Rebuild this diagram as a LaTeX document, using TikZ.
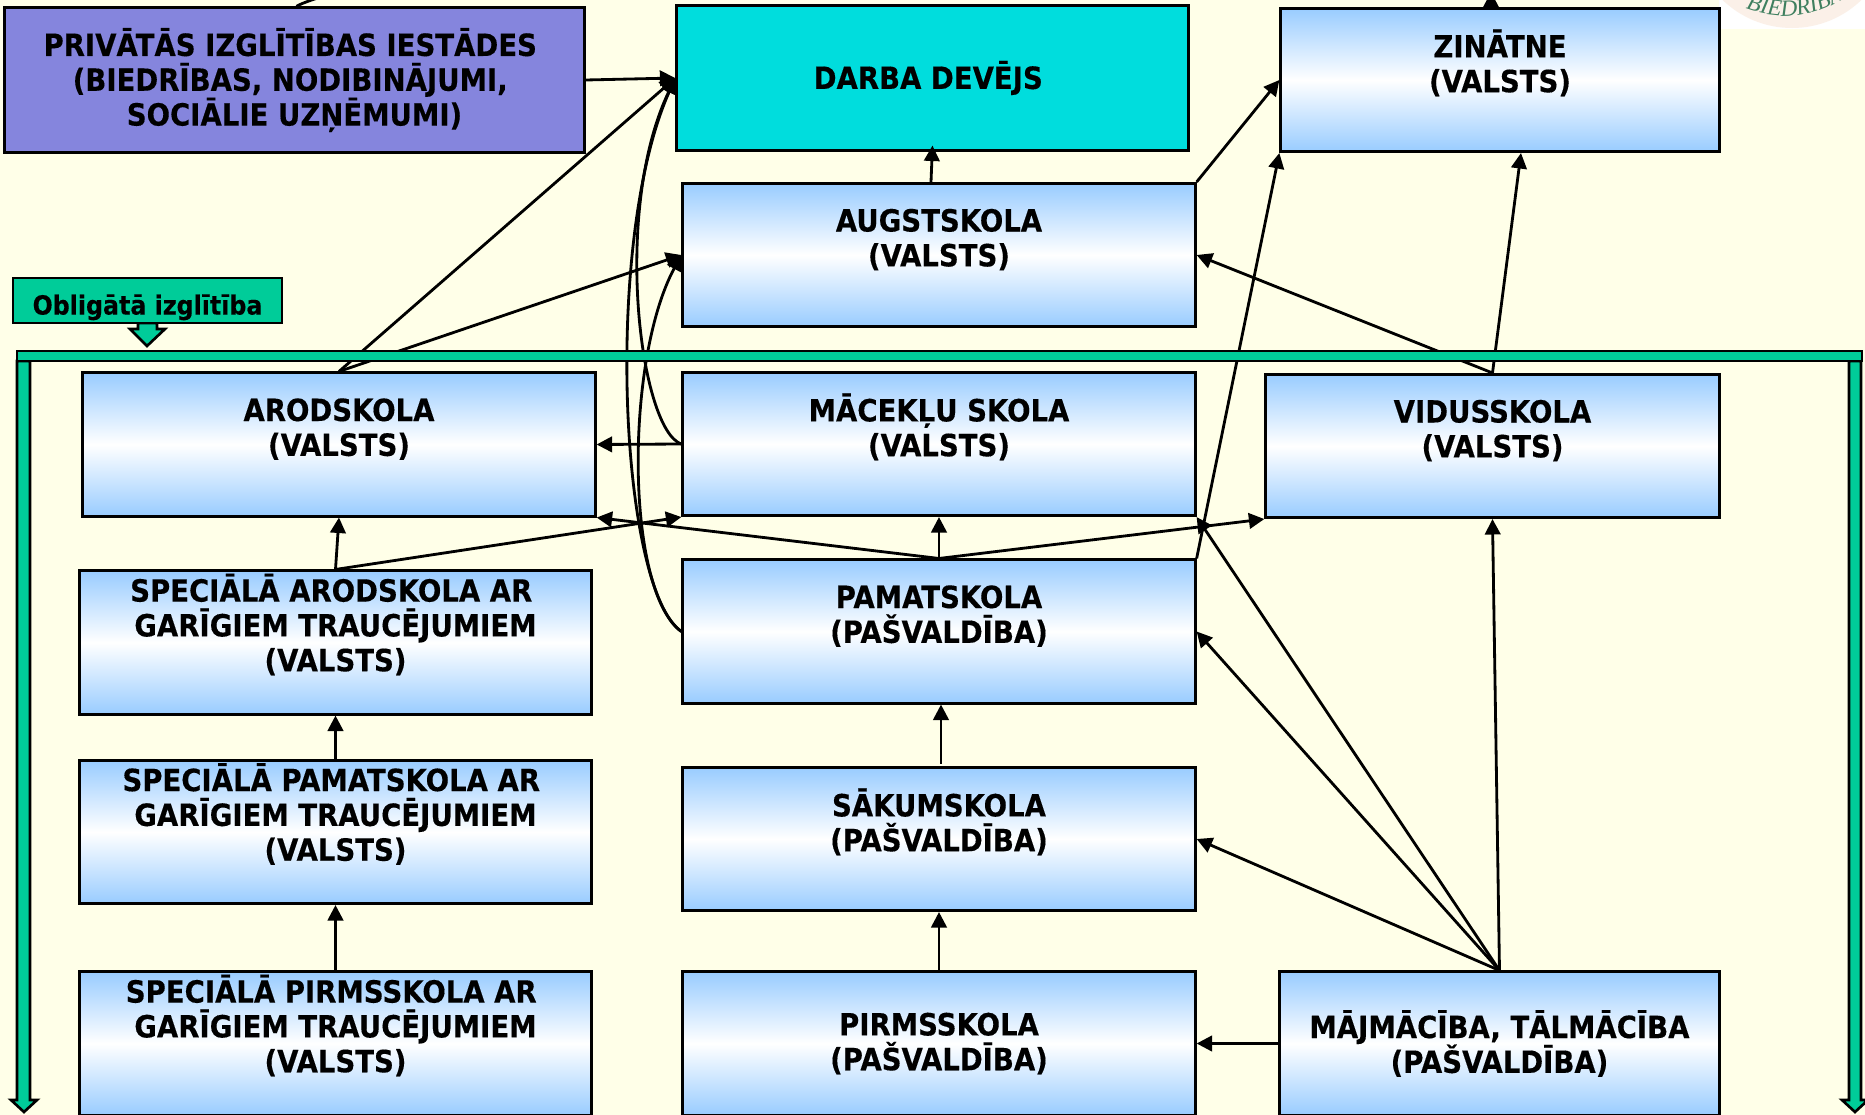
\documentclass[tikz,border=0pt]{standalone}
\usepackage{fontspec}
\setmainfont[FakeStretch=0.9,BoldFeatures={FakeBold=0.3}]{DejaVu Sans}
\newfontfamily\sealfont{Liberation Serif}
\usepackage{tikz}
\usetikzlibrary{shapes,arrows.meta}
\usetikzlibrary{calc}
\usetikzlibrary{decorations.text}
\definecolor{paper}{HTML}{FFFFE8}
\definecolor{skyblue}{HTML}{99CCFF}
\definecolor{mintgreen}{HTML}{00CC99}
\definecolor{violetbox}{HTML}{8585DD}
\definecolor{cyanbox}{HTML}{00DDDD}
\definecolor{sealpink}{HTML}{FBF0E8}
\definecolor{sealgreen}{HTML}{3F7F5F}
\pgfdeclareradialshading{sealglow}{\pgfpoint{0bp}{0bp}}{color(0bp)=(sealpink);color(37bp)=(sealpink);color(50bp)=(white)}
\newcommand{\tailgap}{\kern2.4pt\relax}
\tikzstyle{skola} = [draw, line width=0.85pt, inner sep=0pt, align=center, minimum height=1.43cm,
font=\fontsize{8.7}{9.9}\selectfont\bfseries, top color=skyblue, bottom color=skyblue, middle color=white]
\tikzstyle{flatbox} = [draw, line width=0.85pt, inner sep=0pt, align=center, minimum height=1.44cm,
font=\fontsize{8.7}{9.9}\selectfont\bfseries]
\tikzstyle{line} = [draw, line width=0.8pt, -{Triangle[length=4.4pt,width=4.4pt]}]
\tikzstyle{greenarrow} = [draw=black, line width=0.75pt, fill=mintgreen]

\begin{document}
\begin{tikzpicture}[x=0.01cm, y=-0.01cm]
	\useasboundingbox (0,0) rectangle (1865,1115);
	\clip (0,0) rectangle (1865,1115);
	\fill [paper] (0,0) rectangle (1865,1115);
	% Seal in the corner
	\fill [white] (1719,0) rectangle (1865,29);
	\shade [shading=sealglow] (1792,-72) circle (100);
	\path [decorate, decoration={text along path, text align=center,
		text={|\sealfont\itshape\fontsize{6.6}{7}\selectfont\color{sealgreen}|BIEDRĪBA}}]
		(1742,7) .. controls (1774,20) and (1809,21) .. (1848,-4);
	%% Boxes
	% Top row
	\node [flatbox, fill=violetbox, minimum width=5.79cm] at (294.5,80) (priv)
		{PRIVĀTĀS IZGLĪTĪBAS IESTĀDES\tailgap\\(BIEDRĪBAS, NODIBINĀJUMI,\tailgap\\SOCIĀLIE UZŅĒMUMI)};
	\node [flatbox, fill=cyanbox, minimum width=5.11cm] at (932.5,78) (darba) {DARBA DEVĒJS\tailgap};
	\node [skola, minimum width=4.38cm] at (1500,80) (zinatne) {ZINĀTNE\\(VALSTS)\\[1pt]~};
	\node [skola, minimum width=5.12cm] at (939,255) (augst) {AUGSTSKOLA\\(VALSTS)\\~};
	% Left column
	\node [skola, minimum width=5.12cm] at (339,444.5) (arod) {ARODSKOLA\\(VALSTS)\\~};
	\node [skola, minimum width=5.11cm] at (335.5,642.5) (specarod) {SPECIĀLĀ ARODSKOLA AR\tailgap\\GARĪGIEM TRAUCĒJUMIEM\\(VALSTS)\\[1.5pt]~};
	\node [skola, minimum width=5.11cm] at (335.5,832) (specpam) {SPECIĀLĀ PAMATSKOLA AR\tailgap\\GARĪGIEM TRAUCĒJUMIEM\\(VALSTS)\\[1.5pt]~};
	\node [skola, minimum width=5.11cm] at (335.5,1043.5) (specpirm) {SPECIĀLĀ PIRMSSKOLA AR\tailgap\\GARĪGIEM TRAUCĒJUMIEM\\(VALSTS)\\[1.5pt]~};
	% Middle column
	\node [skola, minimum width=5.12cm] at (939,444) (macek) {MĀCEKĻU SKOLA\\(VALSTS)\\[1pt]~};
	\node [skola, minimum width=5.12cm] at (939,631.5) (pamat) {PAMATSKOLA\\(PAŠVALDĪBA)\\~};
	\node [skola, minimum width=5.12cm] at (939,839) (sakum) {SĀKUMSKOLA\\(PAŠVALDĪBA)\\[1pt]~};
	\node [skola, minimum width=5.12cm] at (939,1043.5) (pirms) {PIRMSSKOLA\\(PAŠVALDĪBA)};
	% Right column
	\node [skola, minimum width=4.53cm] at (1492.5,446) (vidus) {VIDUSSKOLA\\(VALSTS)\\~};
	\node [skola, minimum width=4.39cm] at (1499.5,1043.5) (majm) {MĀJMĀCĪBA, TĀLMĀCĪBA\\(PAŠVALDĪBA)};
	%% Flows
	% Leaving the page
	\coordinate (offpriv) at (330,-6);
	\coordinate (offzin) at (1491,-8);
	\draw [line width=0.8pt] ($(priv.north)+(2,0)$) .. controls (300,4) and (308,1) .. (offpriv);
	\path [line] ($(zinatne.north)+(-9,0)$) to (offzin);
	% To the employer
	\path [line] (priv.east) to (darba.west);
	\path [line] (arod.north) to (darba.west);
	\path [line] ($(augst.north)+(-8,0)$) to ($(darba.south)+(0,-6)$);
	\path [line] (macek.west) .. controls (640,430) and (612,210) .. (darba.west);
	\path [line] (pamat.west) .. controls (620,590) and (603,240) .. (darba.west);
	% To the higher school
	\path [line] (arod.north) to (augst.west);
	\path [line] (pamat.west) .. controls (625,590) and (625,360) .. (augst.west);
	\path [line] (vidus.north) to (augst.east);
	% To science
	\path [line] (augst.north east) to (zinatne.west);
	\path [line] (pamat.north east) to (zinatne.south west);
	\path [line] (vidus.north) to ($(zinatne.south)+(21,0)$);
	% Left column
	\path [line] (macek.west) to (arod.east);
	\path [line] (specarod.north) to (arod.south);
	\path [line] (specarod.north) to (macek.south west);
	\path [line] (specpam.north) to (specarod.south);
	\path [line] (specpirm.north) to (specpam.south);
	% Middle column
	\path [line] (pamat.north) to (macek.south);
	\path [line] (pamat.north) to (arod.south east);
	\path [line] (pamat.north) to (vidus.south west);
	\path [line] ($(sakum.north)+(2,-2)$) to ($(pamat.south)+(2,0)$);
	\path [line] (pirms.north) to (sakum.south);
	% Home and distance learning
	\path [line] (majm.west) to (pirms.east);
	\path [line] (majm.north) to (sakum.east);
	\path [line] (majm.north) to (pamat.east);
	\path [line] (majm.north) to (macek.south east);
	\path [line] (majm.north) to (vidus.south);
	%% Compulsory education
	\draw [greenarrow] (17,361) -- (30,361) -- (30,1100) -- (37,1100) -- (24,1112) -- (11,1100) -- (17,1100) -- cycle;
	\draw [greenarrow] (1849,361) -- (1861,361) -- (1861,1100) -- (1868,1100) -- (1855,1112) -- (1842,1100) -- (1849,1100) -- cycle;
	\draw [greenarrow] (17,351) rectangle (1862,361);
	\draw [greenarrow] (138,323) -- (157,323) -- (157,329) -- (165,329) -- (147,346) -- (130,329) -- (138,329) -- cycle;
	\node [draw, line width=0.75pt, fill=mintgreen, inner sep=0pt, minimum width=2.69cm, minimum height=0.45cm,
		font=\fontsize{7.5}{10}\selectfont\bfseries] at (147.5,300.5) (oblig) {\raisebox{-1pt}[8pt][2pt]{Obligātā izglītība}};
\end{tikzpicture}
\end{document}
